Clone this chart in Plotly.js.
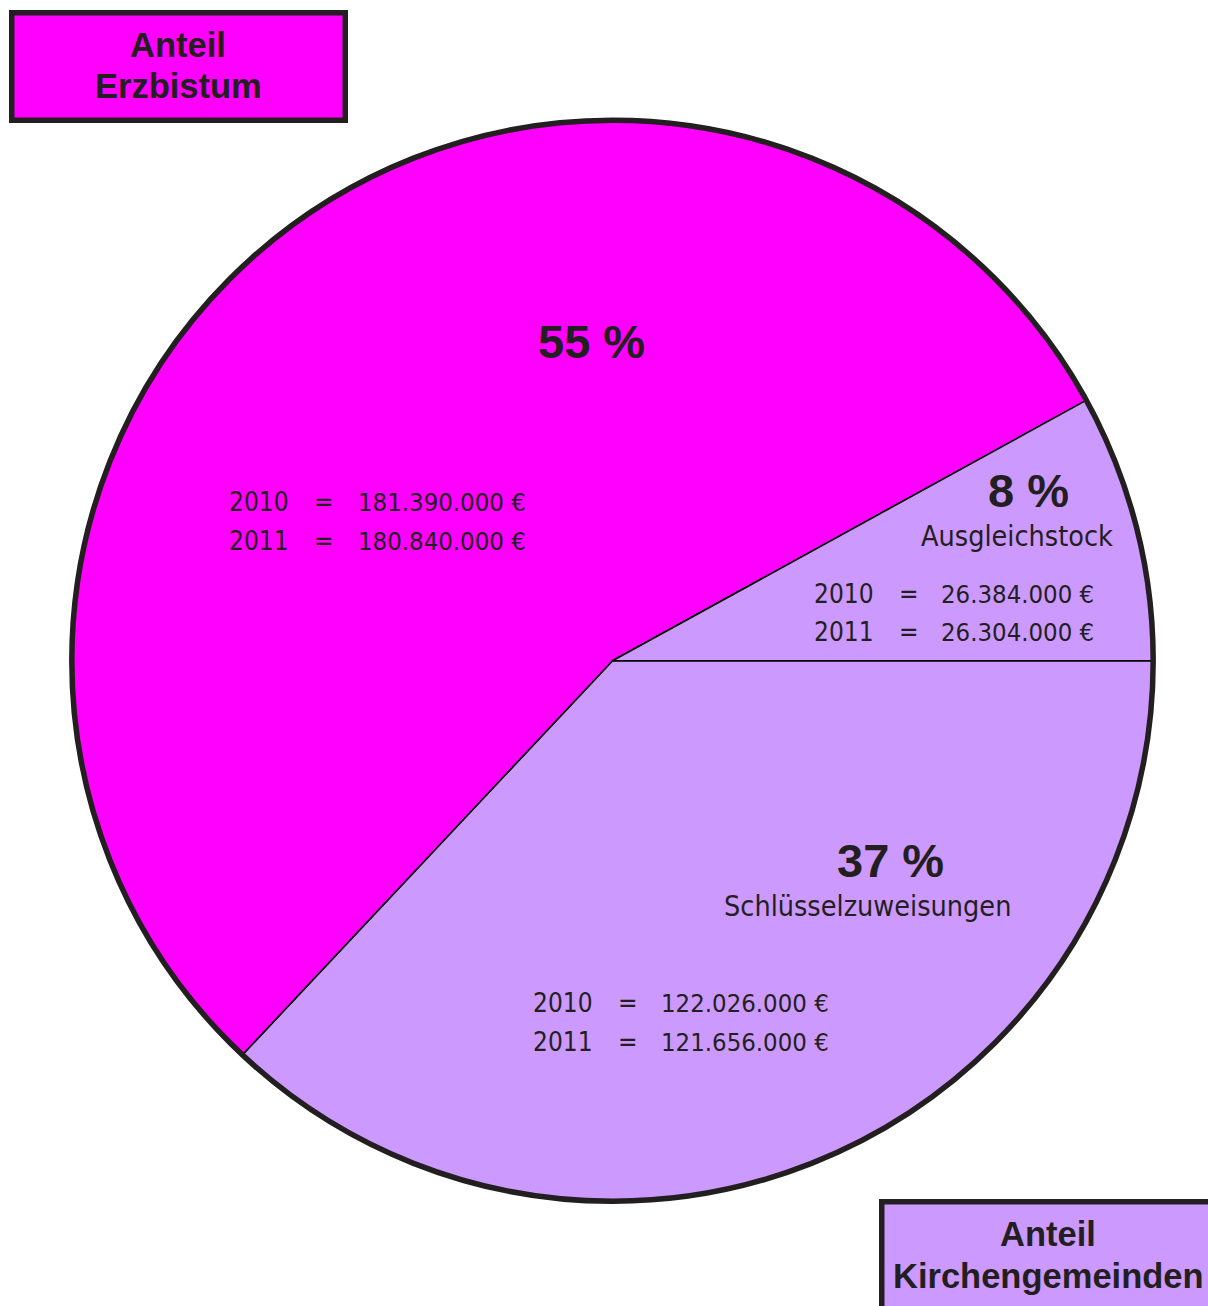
<!DOCTYPE html>
<html>
<head>
<meta charset="utf-8">
<script src="https://cdn.plot.ly/plotly-3.0.1.min.js"></script>
<style>
  html, body { margin: 0; padding: 0; background: #ffffff; }
  #chart { width: 1208px; height: 1306px; }
</style>
</head>
<body>
<div id="chart"></div>
<script>
// ---- data ----
var categories = ['Schlüsselzuweisungen', 'Erzbistum', 'Ausgleichstock'];
var values2010 = [122026000, 181390000, 26384000];
var values2011 = [121656000, 180840000, 26304000];
var percentLabels = ['37 %', '55 %', '8 %'];
var sliceLabels = ['Schlüsselzuweisungen', '', 'Ausgleichstock'];
var years = ['2010', '2011'];
var boxTitleLines = [['Anteil', 'Erzbistum'], ['Anteil', 'Kirchengemeinden']];

// ---- styles ----
var W = 1208, H = 1306;
var TXT = '#231f20';
var sliceColors = ['#cc99ff', '#ff00ff', '#cc99ff'];
var NARROW = "'Liberation Sans Narrow', 'Arial Narrow', 'DejaVu Sans Condensed', sans-serif";
var BOLD = "'Liberation Sans', Arial, Helvetica, sans-serif";

function px(x) { return x / W; }
function py(y) { return 1 - y / H; }
function fmt(n) {
  return String(n).replace(/\B(?=(\d{3})+(?!\d))/g, '.') + ' €';
}

// pie geometry (pixels)
var cx = 612.5, cy = 660.75, r = 540.5;
var domain = { x: [px(cx - r), px(cx + r)], y: [py(cy + r), py(cy - r)] };

var pie = {
  type: 'pie',
  labels: categories,
  values: values2011,
  sort: false,
  direction: 'clockwise',
  rotation: 90,
  textinfo: 'none',
  hoverinfo: 'label+percent',
  marker: { colors: sliceColors, line: { color: '#000000', width: 1.6 } },
  domain: domain,
  showlegend: false
};
var outline = {
  type: 'pie',
  labels: ['outline'],
  values: [1],
  sort: false,
  textinfo: 'none',
  hoverinfo: 'skip',
  marker: { colors: ['rgba(0,0,0,0)'], line: { color: TXT, width: 5.5 } },
  domain: domain,
  showlegend: false
};

// label positions (pixels) per category
var pctPos = [[890, 860], [591, 341], [1028, 491]];
var namePos = [[867, 906], null, [1017, 536]];
var blockPos = [[531, 628, 659, 1003], [227, 324, 356, 502], [812, 909, 939, 594]];
var rowGap = 38.5;

var annotations = [];
for (var i = 0; i < categories.length; i++) {
  annotations.push({
    xref: 'paper', yref: 'paper', x: px(pctPos[i][0]), y: py(pctPos[i][1]),
    xanchor: 'center', yanchor: 'middle', showarrow: false,
    text: '<b>' + percentLabels[i] + '</b>',
    font: { family: BOLD, size: 47, color: TXT }
  });
  if (namePos[i] && sliceLabels[i]) {
    annotations.push({
      xref: 'paper', yref: 'paper', x: px(namePos[i][0]), y: py(namePos[i][1]),
      xanchor: 'center', yanchor: 'middle', showarrow: false,
      text: sliceLabels[i],
      font: { family: NARROW, size: 28.5, color: TXT }
    });
  }
  var vals = [values2010[i], values2011[i]];
  for (var k = 0; k < years.length; k++) {
    var yy = py(blockPos[i][3] + k * rowGap);
    annotations.push({
      xref: 'paper', yref: 'paper', x: px(blockPos[i][0]), y: yy,
      xanchor: 'left', yanchor: 'middle', showarrow: false,
      text: years[k], font: { family: NARROW, size: 26, color: TXT }
    });
    annotations.push({
      xref: 'paper', yref: 'paper', x: px(blockPos[i][1]), y: yy,
      xanchor: 'center', yanchor: 'middle', showarrow: false,
      text: '=', font: { family: NARROW, size: 26, color: TXT }
    });
    annotations.push({
      xref: 'paper', yref: 'paper', x: px(blockPos[i][2]), y: yy,
      xanchor: 'left', yanchor: 'middle', showarrow: false,
      text: fmt(vals[k]), font: { family: NARROW, size: 25.5, color: TXT }
    });
  }
}

// corner boxes: [left, top, text centre x, first line y, second line y]
var boxGeom = [[9, 10, 178, 45, 86], [878.5, 1199, 1048, 1234, 1276]];
var boxColors = [sliceColors[1], sliceColors[0]];
for (var b = 0; b < boxGeom.length; b++) {
  var g = boxGeom[b];
  annotations.push({
    xref: 'paper', yref: 'paper', x: px(g[0]), y: py(g[1]),
    xanchor: 'left', yanchor: 'top', showarrow: false,
    text: ' ', font: { family: BOLD, size: 10, color: TXT },
    bgcolor: boxColors[b], bordercolor: TXT, borderwidth: 5.5, borderpad: 0,
    width: 328, height: 102
  });
  for (var l = 0; l < 2; l++) {
    annotations.push({
      xref: 'paper', yref: 'paper', x: px(g[2]), y: py(g[3 + l]),
      xanchor: 'center', yanchor: 'middle', showarrow: false,
      text: '<b>' + boxTitleLines[b][l] + '</b>',
      font: { family: BOLD, size: 34.5, color: TXT }
    });
  }
}

var layout = {
  width: W, height: H,
  margin: { l: 0, r: 0, t: 0, b: 0, pad: 0 },
  paper_bgcolor: '#ffffff',
  showlegend: false,
  annotations: annotations
};

Plotly.newPlot('chart', [pie, outline], layout, { displayModeBar: false, staticPlot: true });
</script>
</body>
</html>
